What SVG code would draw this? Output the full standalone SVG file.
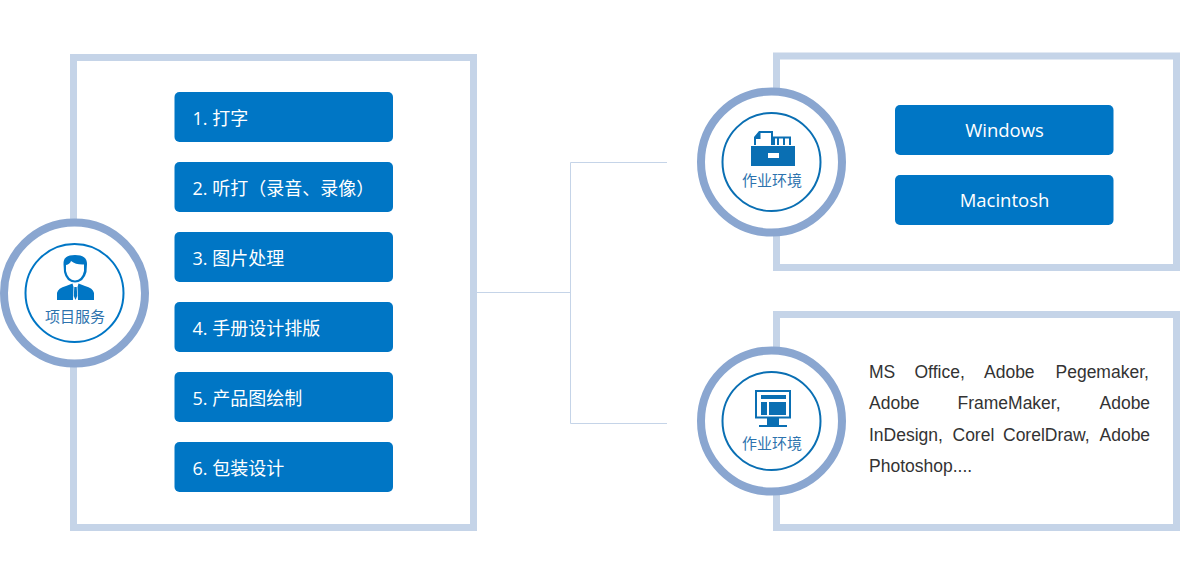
<svg xmlns="http://www.w3.org/2000/svg" width="1180" height="580" viewBox="0 0 1180 580">
<style>
.frame{fill:#fff;stroke:#c5d4e8;stroke-width:7}
.ring{fill:#fff;stroke:#8aa6d0;stroke-width:8}
.inner{fill:#fff;stroke-width:2}
.btn{fill:#0076c5}
.t{font-family:"Open Sans","Noto Sans CJK SC",sans-serif;font-size:18px;fill:#fff}
.t2{font-size:18.500px}
.c{font-family:"Noto Sans CJK SC",sans-serif;font-size:15px;text-anchor:middle;fill:#2d73ae}
.body{font-family:"Liberation Sans",Arial,sans-serif;font-size:17.500px;fill:#333}
.ico{fill:#0a6fb3}
.conn{fill:none;stroke:#c5d4e8;stroke-width:1}
</style>
<g id="connectors">
<path class="conn" d="M477 292.500H570.500M570.500 162.500V423.500M570.500 162.500H667M570.500 423.500H667"/>
</g>
<g id="frame-left"><rect class="frame" x="73.500" y="57.500" width="400" height="470"/></g>
<g id="frame-top"><rect class="frame" x="776.500" y="56" width="400" height="211.500"/></g>
<g id="frame-bottom"><rect class="frame" x="776.500" y="314.500" width="400" height="213"/></g>
<g id="item-1"><rect class="btn" x="174.500" y="92" width="218.500" height="50" rx="5"/><text class="t" x="192.500" y="124.500">1. 打字</text></g>
<g id="item-2"><rect class="btn" x="174.500" y="162" width="218.500" height="50" rx="5"/><text class="t" x="192.500" y="194.500">2. 听打（录音、录像）</text></g>
<g id="item-3"><rect class="btn" x="174.500" y="232" width="218.500" height="50" rx="5"/><text class="t" x="192.500" y="264.500">3. 图片处理</text></g>
<g id="item-4"><rect class="btn" x="174.500" y="302" width="218.500" height="50" rx="5"/><text class="t" x="192.500" y="334.500">4. 手册设计排版</text></g>
<g id="item-5"><rect class="btn" x="174.500" y="372" width="218.500" height="50" rx="5"/><text class="t" x="192.500" y="404.500">5. 产品图绘制</text></g>
<g id="item-6"><rect class="btn" x="174.500" y="442" width="218.500" height="50" rx="5"/><text class="t" x="192.500" y="474.500">6. 包装设计</text></g>
<g id="windows"><rect class="btn" x="895" y="105" width="218.500" height="50" rx="5"/><text class="t t2" x="1004.500" y="137" text-anchor="middle">Windows</text></g>
<g id="macintosh"><rect class="btn" x="895" y="175" width="218.500" height="50" rx="5"/><text class="t t2" x="1004.500" y="207" text-anchor="middle">Macintosh</text></g>
<g id="hub-service">
<circle class="ring" cx="74.500" cy="293" r="70.500"/>
<circle class="inner" cx="74.500" cy="293" r="49" stroke="#0076c5"/>
<path d="M63.500 264Q63 255 75 255Q87 255 87 264L86.500 272Q84 282 75 282.500Q66 282 64 272Z" fill="#0076c5"/>
<path d="M66 265Q70 264 71 261Q76 265 84 264.500L84 271Q82 280 75 280.500Q68 280 66 271Z" fill="#fff"/>
<path d="M57 300V293Q58 288 66 286L72.500 283.500L73.500 287L73 300ZM94 300V293Q93 288 85 286L78.500 283.500L77.500 287L78 300Z" fill="#0076c5"/>
<path d="M74.300 287H76.700L77.200 296L75.500 300L73.800 296Z" fill="#0076c5"/>
<text class="c" x="75" y="322">项目服务</text>
</g>
<g id="hub-env-1">
<circle class="ring" cx="771.500" cy="162" r="70.500"/>
<circle class="inner" cx="771.500" cy="162" r="49" stroke="#0a6fb3"/>
<path class="ico" d="M751 146H795V166H751ZM768 153V158H779V153Z" fill-rule="evenodd"/>
<path class="ico" d="M754 145V137L759 131H773V145H771V133H760.500V139H756V145ZM773 136.500H791V145H789V138.500H785V145H783V138.500H779V145H777V138.500H775V145H773Z"/>
<text class="c" x="772" y="186">作业环境</text>
</g>
<g id="hub-env-2">
<circle class="ring" cx="771.500" cy="421" r="70.500"/>
<circle class="inner" cx="771.500" cy="421" r="49" stroke="#0a6fb3"/>
<path class="ico" d="M755 390H791V418.500H755ZM757 392V416.500H789V392Z" fill-rule="evenodd"/>
<path class="ico" d="M761 395H786V399H761ZM761 402H767V415H761ZM769 402H786V415H769ZM767 418H779V425H767ZM759 425H787V427H759Z"/>
<text class="c" x="772" y="449">作业环境</text>
</g>
<g id="software-text" class="body">
<text y="377.500"><tspan x="869">MS</tspan><tspan x="914.500">Office,</tspan><tspan x="984">Adobe</tspan><tspan x="1055.500">Pegemaker,</tspan></text>
<text y="409"><tspan x="869">Adobe</tspan><tspan x="957.500">FrameMaker,</tspan><tspan x="1099.500">Adobe</tspan></text>
<text y="440.500"><tspan x="869">InDesign,</tspan><tspan x="952.500">Corel</tspan><tspan x="1003">CorelDraw,</tspan><tspan x="1099.500">Adobe</tspan></text>
<text x="869" y="472">Photoshop....</text>
</g>
</svg>
